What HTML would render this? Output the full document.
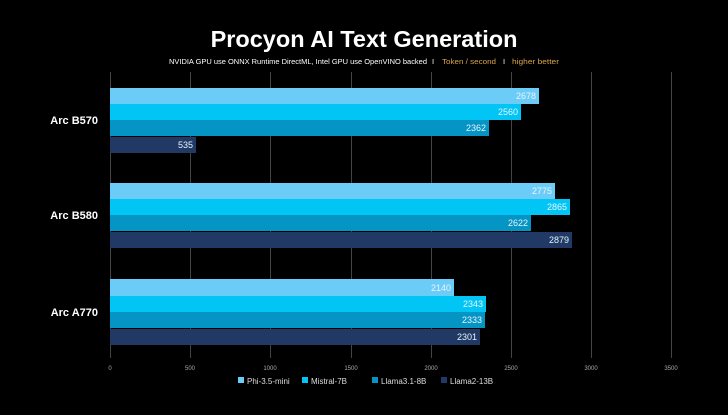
<!DOCTYPE html>
<html><head><style>
body{margin:0;background:#000;width:728px;height:410px;overflow:hidden;font-family:"Liberation Sans",sans-serif;}
</style></head><body>
<svg width="728" height="410" xmlns="http://www.w3.org/2000/svg" font-family="Liberation Sans, sans-serif">
<rect width="728" height="410" fill="#000"/>
<text x="364" y="47" text-anchor="middle" fill="#fff" font-size="23.5" font-weight="bold">Procyon AI Text Generation</text>
<text x="169" y="64" fill="#fff" font-size="7.5" textLength="258" lengthAdjust="spacingAndGlyphs">NVIDIA GPU use ONNX Runtime DirectML, Intel GPU use OpenVINO backed</text>
<text x="432" y="64" fill="#fff" font-size="7.5">I</text>
<text x="442" y="64" fill="#d9a54a" font-size="7.5" textLength="54" lengthAdjust="spacingAndGlyphs">Token / second</text>
<text x="503" y="64" fill="#fff" font-size="7.5">I</text>
<text x="512" y="64" fill="#d9a54a" font-size="7.5" textLength="47" lengthAdjust="spacingAndGlyphs">higher better</text>
<g stroke="#444" stroke-width="1">
<line x1="110.5" y1="72" x2="110.5" y2="358"/>
<line x1="190.5" y1="72" x2="190.5" y2="358"/>
<line x1="270.5" y1="72" x2="270.5" y2="358"/>
<line x1="351.5" y1="72" x2="351.5" y2="358"/>
<line x1="431.5" y1="72" x2="431.5" y2="358"/>
<line x1="511.5" y1="72" x2="511.5" y2="358"/>
<line x1="591.5" y1="72" x2="591.5" y2="358"/>
<line x1="671.5" y1="72" x2="671.5" y2="358"/>
</g>
<g font-size="6" fill="#aaa" text-anchor="middle">
<text x="110" y="370">0</text><text x="190" y="370">500</text><text x="270" y="370">1000</text><text x="351" y="370">1500</text><text x="431" y="370">2000</text><text x="511" y="370">2500</text><text x="591" y="370">3000</text><text x="671" y="370">3500</text>
</g>
<g font-size="9" fill="#e8f4ff" text-anchor="end">
<rect x="110" y="88" width="429" height="16" fill="#6cccf8"/><text x="536" y="99">2678</text>
<rect x="110" y="104" width="411" height="16" fill="#00c5f5"/><text x="518" y="115">2560</text>
<rect x="110" y="120" width="379" height="16" fill="#0595c4"/><text x="486" y="131">2362</text>
<rect x="110" y="137" width="86" height="16" fill="#203a65"/><text x="193" y="148">535</text>
<rect x="110" y="183" width="445" height="16" fill="#6cccf8"/><text x="552" y="194">2775</text>
<rect x="110" y="199" width="460" height="16" fill="#00c5f5"/><text x="567" y="210">2865</text>
<rect x="110" y="215" width="421" height="16" fill="#0595c4"/><text x="528" y="226">2622</text>
<rect x="110" y="232" width="462" height="16" fill="#203a65"/><text x="569" y="243">2879</text>
<rect x="110" y="279" width="344" height="17" fill="#6cccf8"/><text x="451" y="291">2140</text>
<rect x="110" y="296" width="376" height="16" fill="#00c5f5"/><text x="483" y="307">2343</text>
<rect x="110" y="312" width="375" height="16" fill="#0595c4"/><text x="482" y="323">2333</text>
<rect x="110" y="329" width="370" height="16" fill="#203a65"/><text x="477" y="340">2301</text>
</g>
<g font-size="11" font-weight="bold" fill="#fff" text-anchor="end">
<text x="98" y="124">Arc B570</text>
<text x="98" y="219">Arc B580</text>
<text x="98" y="316">Arc A770</text>
</g>
<g font-size="8" fill="#ddd">
<rect x="238" y="377" width="6" height="6" fill="#6cccf8"/><text x="247" y="384">Phi-3.5-mini</text>
<rect x="302" y="377" width="6" height="6" fill="#00c5f5"/><text x="311" y="384">Mistral-7B</text>
<rect x="372" y="377" width="6" height="6" fill="#0595c4"/><text x="381" y="384">Llama3.1-8B</text>
<rect x="441" y="377" width="6" height="6" fill="#203a65"/><text x="450" y="384">Llama2-13B</text>
</g>
</svg>
</body></html>
